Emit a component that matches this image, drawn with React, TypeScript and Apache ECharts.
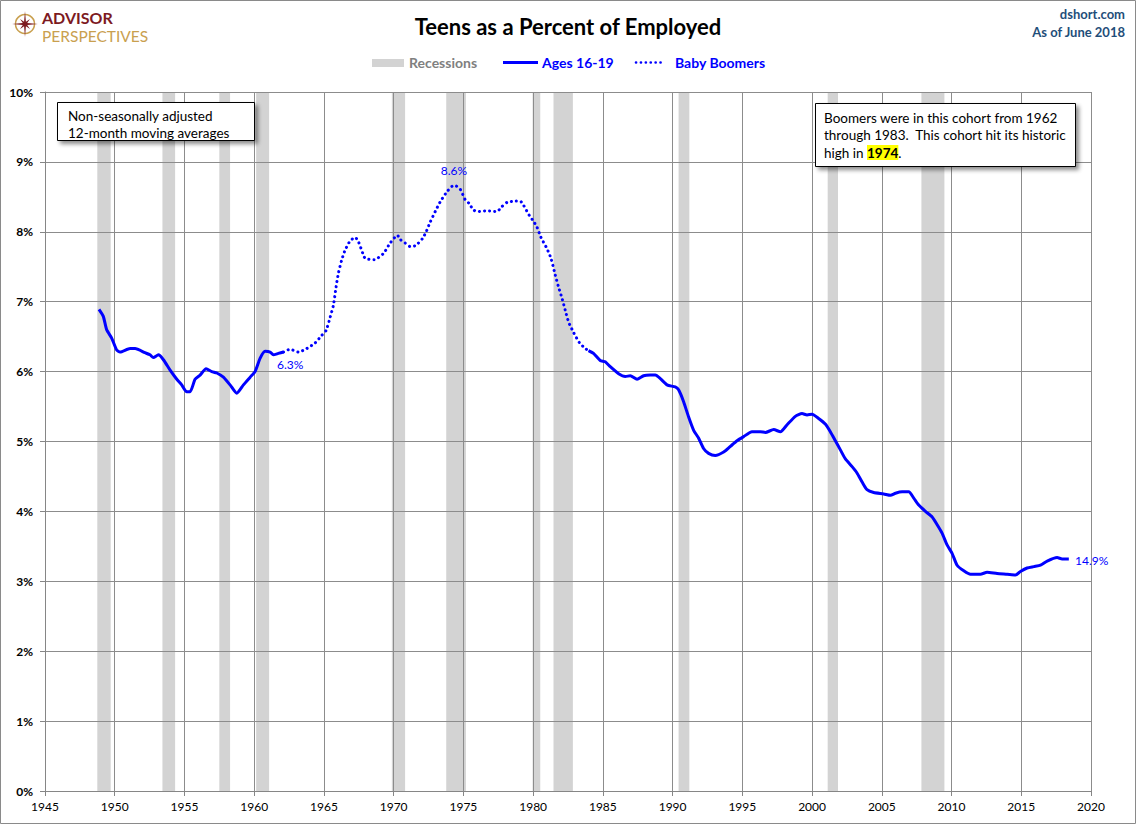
import React, { useEffect, useRef } from "react";
import * as echarts from "echarts";

// ---- Data ----
const teens1Years = [1948.87, 1949.18, 1949.42, 1949.78, 1950.14, 1950.38, 1951.1, 1951.46, 1952.17, 1952.53, 1952.77, 1953.13, 1953.49, 1953.97, 1954.45, 1954.8, 1955.16, 1955.4, 1955.76, 1956.12, 1956.55, 1956.96, 1957.32, 1957.79, 1958.27, 1958.75, 1959.23, 1959.71, 1960.06, 1960.42, 1960.78, 1961.14, 1961.37, 1961.73, 1962.1];
const teens1Values = [6.89, 6.79, 6.6, 6.48, 6.31, 6.28, 6.33, 6.33, 6.27, 6.24, 6.2, 6.24, 6.17, 6.02, 5.89, 5.81, 5.71, 5.71, 5.89, 5.95, 6.04, 6.0, 5.98, 5.92, 5.81, 5.69, 5.81, 5.92, 6.0, 6.19, 6.29, 6.28, 6.24, 6.26, 6.28];

const boomersYears = [1962.1, 1962.57, 1963.17, 1963.77, 1964.37, 1964.85, 1965.16, 1965.45, 1965.68, 1965.87, 1966.04, 1966.28, 1966.52, 1966.88, 1967.24, 1967.47, 1967.79, 1967.96, 1968.6, 1969.27, 1969.75, 1970.27, 1970.47, 1970.82, 1971.18, 1971.54, 1971.78, 1972.09, 1972.33, 1972.62, 1972.98, 1973.34, 1973.81, 1974.18, 1974.41, 1974.77, 1975.13, 1975.44, 1975.68, 1975.97, 1976.69, 1977.4, 1977.76, 1978.12, 1978.72, 1979.07, 1979.31, 1979.74, 1980.03, 1980.27, 1980.56, 1980.99, 1981.28, 1981.59, 1981.82, 1982.07, 1982.3, 1982.54, 1982.9, 1983.33, 1983.74, 1983.97];
const boomersValues = [6.28, 6.32, 6.28, 6.33, 6.41, 6.52, 6.59, 6.78, 6.95, 7.21, 7.41, 7.6, 7.74, 7.87, 7.92, 7.86, 7.69, 7.62, 7.6, 7.69, 7.84, 7.95, 7.89, 7.84, 7.79, 7.8, 7.84, 7.91, 8.0, 8.14, 8.29, 8.43, 8.57, 8.65, 8.66, 8.61, 8.46, 8.4, 8.32, 8.29, 8.3, 8.29, 8.36, 8.42, 8.44, 8.44, 8.38, 8.23, 8.15, 8.07, 7.92, 7.76, 7.62, 7.38, 7.21, 7.05, 6.88, 6.71, 6.56, 6.41, 6.33, 6.3];

const teens2Years = [1983.97, 1984.33, 1984.81, 1985.17, 1985.53, 1986.13, 1986.61, 1986.97, 1987.45, 1987.92, 1988.4, 1988.76, 1989.12, 1989.6, 1990.19, 1990.43, 1990.79, 1991.15, 1991.51, 1991.86, 1992.22, 1992.58, 1993.06, 1993.66, 1994.14, 1994.62, 1995.09, 1995.69, 1996.29, 1996.65, 1997.25, 1997.73, 1998.21, 1998.8, 1999.28, 1999.64, 2000.0, 2000.47, 2000.95, 2001.31, 2001.67, 2002.03, 2002.39, 2002.87, 2003.22, 2003.59, 2003.94, 2004.42, 2005.14, 2005.62, 2005.98, 2006.46, 2006.93, 2007.29, 2007.65, 2008.13, 2008.61, 2008.97, 2009.32, 2009.68, 2010.04, 2010.4, 2010.88, 2011.36, 2012.07, 2012.55, 2013.27, 2013.99, 2014.58, 2014.94, 2015.42, 2015.9, 2016.38, 2016.86, 2017.57, 2017.93, 2018.41];
const teens2Values = [6.3, 6.26, 6.16, 6.14, 6.07, 5.97, 5.93, 5.94, 5.89, 5.94, 5.95, 5.95, 5.9, 5.81, 5.78, 5.74, 5.57, 5.35, 5.16, 5.05, 4.9, 4.83, 4.8, 4.85, 4.93, 5.01, 5.07, 5.14, 5.14, 5.13, 5.17, 5.14, 5.24, 5.36, 5.4, 5.38, 5.39, 5.33, 5.25, 5.14, 5.01, 4.88, 4.75, 4.64, 4.55, 4.42, 4.31, 4.27, 4.25, 4.23, 4.26, 4.28, 4.28, 4.19, 4.09, 4.0, 3.92, 3.81, 3.69, 3.52, 3.4, 3.23, 3.15, 3.1, 3.1, 3.13, 3.11, 3.1, 3.09, 3.14, 3.19, 3.21, 3.23, 3.29, 3.34, 3.32, 3.32];

const recessionStarts = [1948.75, 1953.42, 1957.5, 1960.14, 1969.87, 1973.77, 1979.96, 1981.46, 1990.43, 2001.12, 2007.84];
const recessionEnds = [1949.71, 1954.33, 1958.27, 1961.07, 1970.82, 1975.18, 1980.51, 1982.85, 1991.2, 2001.86, 2009.49];

const xMin = 1945;
const xMax = 2020;
const xStep = 5;
const yMin = 0;
const yMax = 10;
const yStep = 1;

const titleText = "Teens as a Percent of Employed";
const noteLines = ["Non-seasonally adjusted", "12-month moving averages"];
const labelStart = "6.3%";
const labelPeak = "8.6%";
const labelEnd = "14.9%";

const FONT = "Lato, 'Open Sans', sans-serif";
const BLUE = "#0000ff";

const zip = (xs: number[], ys: number[]) => xs.map((x, i) => [x, ys[i]]);

function compassPoints(cx: number, cy: number) {
  const pts: number[][] = [];
  for (let i = 0; i < 16; i++) {
    const a = (i * Math.PI) / 8 - Math.PI / 2;
    const r = i % 4 === 0 ? 13 : i % 2 === 0 ? 7 : 2.4;
    pts.push([cx + r * Math.cos(a), cy + r * Math.sin(a)]);
  }
  return pts;
}

export default function App() {
  const ref = useRef<HTMLDivElement>(null);
  useEffect(() => {
    if (!ref.current) return;
    const chart = echarts.init(ref.current, null, { renderer: "svg" });
    const textStyle = (text: string, font: string, fill: string, extra: any = {}) => ({
      text,
      font,
      fill,
      textVerticalAlign: "middle",
      ...extra,
    });
    const boxStyle = {
      fill: "#ffffff",
      stroke: "#000",
      lineWidth: 1,
      shadowBlur: 4,
      shadowOffsetX: 3,
      shadowOffsetY: 3,
      shadowColor: "rgba(0,0,0,0.45)",
    };
    const option: any = {
      animation: false,
      backgroundColor: "#ffffff",
      textStyle: { fontFamily: FONT },
      title: {
        text: titleText,
        left: "center",
        top: 10,
        textStyle: { fontFamily: FONT, fontSize: 22, fontWeight: "bold", color: "#000" },
      },
      grid: { left: 45, right: 45, top: 92, bottom: 33, containLabel: false },
      xAxis: {
        type: "value",
        min: xMin,
        max: xMax,
        interval: xStep,
        z: 3,
        axisLine: { show: true, lineStyle: { color: "#868686", width: 1 } },
        axisTick: { show: true, length: 5, lineStyle: { color: "#868686" } },
        axisLabel: { color: "#000", fontSize: 12, fontFamily: FONT, margin: 9, formatter: (v: number) => String(v) },
        splitLine: { show: true, lineStyle: { color: "#8c8c8c", width: 1 } },
      },
      yAxis: {
        type: "value",
        min: yMin,
        max: yMax,
        interval: yStep,
        z: 3,
        axisLine: { show: true, lineStyle: { color: "#868686", width: 1 } },
        axisTick: { show: true, length: 5, lineStyle: { color: "#868686" } },
        axisLabel: { color: "#000", fontSize: 12, fontWeight: "bold", fontFamily: FONT, margin: 12, formatter: "{value}%" },
        splitLine: { show: true, lineStyle: { color: "#8c8c8c", width: 1 } },
      },
      series: [
        {
          name: "Recessions",
          type: "custom",
          z: 1,
          silent: true,
          data: recessionStarts.map((s, i) => [s, recessionEnds[i]]),
          encode: { x: [0, 1] },
          renderItem: (params: any, api: any) => {
            const p0 = api.coord([api.value(0), yMax]);
            const p1 = api.coord([api.value(1), yMin]);
            return {
              type: "rect",
              shape: { x: p0[0], y: p0[1], width: p1[0] - p0[0], height: p1[1] - p0[1] },
              style: { fill: "#d3d3d3" },
            };
          },
        },
        {
          name: "Ages 16-19",
          type: "line",
          z: 5,
          showSymbol: false,
          smooth: 0.2,
          data: zip(teens1Years, teens1Values),
          lineStyle: { color: BLUE, width: 3 },
        },
        {
          name: "Baby Boomers",
          type: "line",
          z: 5,
          showSymbol: false,
          smooth: 0.2,
          data: zip(boomersYears, boomersValues),
          lineStyle: { color: BLUE, width: 3, type: [0.1, 5], cap: "round" },
        },
        {
          name: "Ages 16-19 ",
          type: "line",
          z: 5,
          showSymbol: false,
          smooth: 0.2,
          data: zip(teens2Years, teens2Values),
          lineStyle: { color: BLUE, width: 3 },
        },
      ],
      graphic: [
        {
          type: "rect",
          silent: true,
          z: 100,
          shape: { x: 0.5, y: 0.5, width: 1135, height: 823 },
          style: { fill: "none", stroke: "#8a8a8a", lineWidth: 1 },
        },
        // logo
        {
          type: "circle",
          shape: { cx: 25, cy: 24, r: 9.5 },
          style: { fill: "none", stroke: "#c9a04f", lineWidth: 1.5 },
        },
        {
          type: "polygon",
          shape: { points: compassPoints(25, 24) },
          style: { fill: "#7d1a1f" },
        },
        {
          type: "text",
          x: 42,
          y: 17.5,
          style: textStyle("ADVISOR", `bold 16px ${FONT}`, "#7d1a1f"),
        },
        {
          type: "text",
          x: 42,
          y: 36,
          style: textStyle("PERSPECTIVES", `15.5px ${FONT}`, "#c9a04f"),
        },
        // top right
        {
          type: "text",
          x: 1125,
          y: 14,
          style: textStyle("dshort.com", `bold 13px ${FONT}`, "#1f4e79", { textAlign: "right" }),
        },
        {
          type: "text",
          x: 1125,
          y: 32,
          style: textStyle("As of June 2018", `bold 13px ${FONT}`, "#1f4e79", { textAlign: "right" }),
        },
        // legend
        {
          type: "rect",
          shape: { x: 372, y: 59, width: 32, height: 8 },
          style: { fill: "#d3d3d3" },
        },
        { type: "text", x: 409, y: 62.5, style: textStyle("Recessions", `bold 14px ${FONT}`, "#808080") },
        {
          type: "line",
          shape: { x1: 503, y1: 62.5, x2: 538, y2: 62.5 },
          style: { stroke: BLUE, lineWidth: 3 },
        },
        { type: "text", x: 542, y: 62.5, style: textStyle("Ages 16-19", `bold 14px ${FONT}`, BLUE) },
        {
          type: "line",
          shape: { x1: 636, y1: 62.5, x2: 662, y2: 62.5 },
          style: { stroke: BLUE, lineWidth: 2.6, lineDash: [0.1, 4.8], lineCap: "round" },
        },
        { type: "text", x: 675, y: 62.5, style: textStyle("Baby Boomers", `bold 14px ${FONT}`, BLUE) },
        // note box 1
        { type: "rect", z: 50, shape: { x: 57.5, y: 102.5, width: 197, height: 38 }, style: boxStyle },
        { type: "text", z: 51, x: 68, y: 115.5, style: textStyle(noteLines[0], `13.5px ${FONT}`, "#000") },
        { type: "text", z: 51, x: 68, y: 133, style: textStyle(noteLines[1], `13.5px ${FONT}`, "#000") },
        // note box 2
        { type: "rect", z: 50, shape: { x: 815.5, y: 103.5, width: 260, height: 63 }, style: boxStyle },
        { type: "text", z: 51, x: 824, y: 117.5, style: textStyle("Boomers were in this cohort from 1962", `13.5px ${FONT}`, "#000") },
        { type: "text", z: 51, x: 824, y: 135, style: textStyle("through 1983.  This cohort hit its historic", `13.5px ${FONT}`, "#000") },
        {
          type: "text",
          z: 51,
          x: 824,
          y: 152.5,
          style: {
            text: "{a|high in }{b|1974}{a|.}",
            textVerticalAlign: "middle",
            rich: {
              a: { fontFamily: FONT, fontSize: 13.5, fill: "#000" },
              b: { fontFamily: FONT, fontSize: 13.5, fontWeight: "bold", fill: "#000", backgroundColor: "#ffff00", padding: [1, 0, 0, 0] },
            },
          },
        },
        // data labels
        { type: "text", z: 60, x: 277, y: 364, style: textStyle(labelStart, `12px ${FONT}`, BLUE) },
        { type: "text", z: 60, x: 454, y: 170, style: textStyle(labelPeak, `12px ${FONT}`, BLUE, { textAlign: "center" }) },
        { type: "text", z: 60, x: 1075, y: 560, style: textStyle(labelEnd, `12px ${FONT}`, BLUE) },
      ],
    };
    chart.setOption(option);
    return () => chart.dispose();
  }, []);
  return <div ref={ref} style={{ position: "absolute", left: 0, top: 0, width: 1136, height: 824 }} />;
}
